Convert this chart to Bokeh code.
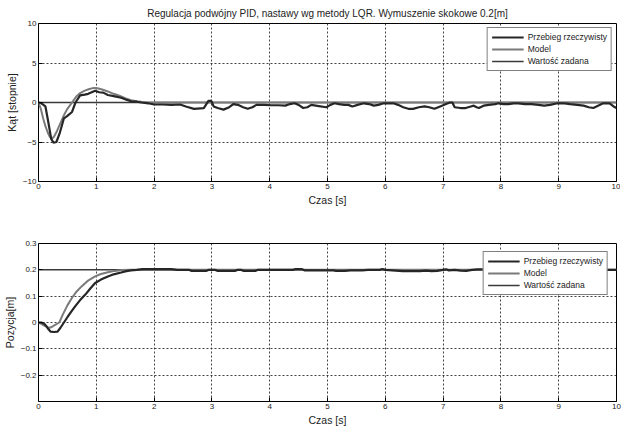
from bokeh.plotting import figure
from bokeh.layouts import column
from bokeh.models import FixedTicker, Range1d
from bokeh.embed import file_html
from bokeh.resources import INLINE

TITLE = "Regulacja podwójny PID, nastawy wg metody LQR. Wymuszenie skokowe 0.2[m]"
X_TICKS = [0, 1, 2, 3, 4, 5, 6, 7, 8, 9, 10]
KAT_TICKS = [-10, -5, 0, 5, 10]
POZ_TICKS = [-0.2, -0.1, 0, 0.1, 0.2, 0.3]
LEGEND_NAMES = ["Przebieg rzeczywisty", "Model", "Wartość zadana"]

# --- angle (Kąt) ---
t_kat_real = [0, 0.05, 0.12, 0.17, 0.22, 0.26, 0.31, 0.37, 0.44, 0.50, 0.58, 0.64, 0.72, 0.80, 0.86, 0.92,
              0.98, 1.05, 1.12, 1.20, 1.30, 1.43, 1.52, 1.60, 1.70, 1.78, 1.90, 2.00, 2.15, 2.30, 2.45,
              2.55, 2.69, 2.86, 2.94, 2.99, 3.03, 3.10, 3.20, 3.30, 3.37, 3.45, 3.54, 3.62, 3.70, 3.77,
              3.90, 4.03, 4.15, 4.27, 4.35, 4.43, 4.50, 4.58, 4.65, 4.72, 4.85, 4.98, 5.05, 5.12, 5.20,
              5.29, 5.36, 5.43, 5.52, 5.63, 5.72, 5.80, 5.88, 5.97, 6.14, 6.22, 6.31, 6.40, 6.48, 6.58,
              6.68, 6.76, 6.85, 6.95, 7.05, 7.12, 7.16, 7.20, 7.30, 7.39, 7.48, 7.53, 7.58, 7.62, 7.70,
              7.79, 7.90, 7.96, 8.05, 8.13, 8.22, 8.30, 8.42, 8.53, 8.65, 8.75, 8.85, 8.98, 9.10, 9.20,
              9.32, 9.43, 9.52, 9.60, 9.68, 9.77, 9.88, 9.95, 10.0]
kat_real = [0, -0.1, -0.5, -2.5, -4.6, -5.1, -5.0, -3.8, -2.0, -1.7, -1.2, 0.0, 0.9, 1.0, 1.1, 1.3,
            1.5, 1.3, 1.25, 0.95, 0.8, 0.6, 0.35, 0.15, 0.1, 0.0, -0.1, -0.25, -0.25, -0.3, -0.25,
            -0.5, -0.8, -0.7, 0.2, 0.2, -0.5, -0.7, -0.9, -0.6, -0.2, -0.3, -0.6, -0.8, -0.6, -0.3,
            -0.3, -0.35, -0.35, -0.4, -0.2, -0.1, -0.3, -0.7, -0.6, -0.3, -0.45, -0.6, -0.3, -0.1, -0.2,
            -0.3, -0.3, -0.5, -0.3, -0.1, -0.2, -0.4, -0.3, -0.1, -0.1, -0.3, -0.6, -0.8, -0.8, -0.6,
            -0.5, -0.6, -0.8, -0.5, -0.2, 0.0, 0.0, -0.6, -0.7, -0.7, -0.5, -0.4, -0.6, -0.7, -0.4,
            -0.3, -0.2, -0.1, -0.2, -0.2, -0.1, -0.1, -0.2, -0.2, -0.3, -0.4, -0.3, -0.1, -0.1, -0.2,
            -0.3, -0.4, -0.6, -0.7, -0.4, -0.1, -0.1, -0.5, -0.7]
t_kat_model = [0, 0.04, 0.08, 0.12, 0.16, 0.20, 0.23, 0.27, 0.32, 0.38, 0.44, 0.50, 0.56, 0.60, 0.66,
               0.72, 0.80, 0.88, 0.96, 1.02, 1.10, 1.20, 1.30, 1.40, 1.50, 1.60, 1.70, 1.80, 1.90, 2.0, 10.0]
kat_model = [0, -0.8, -2.0, -3.0, -3.8, -4.4, -4.6, -4.3, -3.6, -2.6, -1.6, -0.8, -0.2, 0.2, 0.8,
             1.2, 1.5, 1.7, 1.85, 1.8, 1.65, 1.4, 1.1, 0.85, 0.55, 0.3, 0.15, 0.05, 0.0, 0.0, 0.0]
t_kat_set = [0, 10]
kat_set = [0, 0]

# --- position (Pozycja) ---
t_poz_real = [0, 0.05, 0.10, 0.13, 0.17, 0.21, 0.27, 0.33, 0.38, 0.44, 0.50, 0.57, 0.64, 0.72, 0.81,
              0.90, 0.98, 1.08, 1.20, 1.30, 1.43, 1.52, 1.60, 1.70, 1.80, 2.0, 2.3, 2.4, 2.6, 2.65, 2.9,
              2.95, 3.05, 3.1, 3.4, 3.45, 3.5, 3.55, 3.75, 3.8, 4.4, 4.45, 4.55, 4.6, 5.1, 5.15, 5.3,
              5.4, 5.6, 5.7, 5.9, 5.95, 6.0, 6.3, 6.6, 6.7, 6.8, 6.9, 7.0, 7.05, 7.1, 7.2, 7.3, 7.4,
              7.5, 7.6, 7.8, 7.9, 8.5, 8.6, 9.0, 9.1, 10.0]
poz_real = [0, 0, -0.005, -0.012, -0.025, -0.035, -0.036, -0.035, -0.02, 0.0, 0.02, 0.042, 0.063, 0.085, 0.106,
            0.13, 0.15, 0.163, 0.175, 0.183, 0.19, 0.195, 0.198, 0.2, 0.203, 0.203, 0.203, 0.2, 0.2, 0.196, 0.196,
            0.2, 0.2, 0.196, 0.196, 0.2, 0.2, 0.196, 0.196, 0.2, 0.2, 0.203, 0.203, 0.198, 0.198, 0.196, 0.196,
            0.198, 0.198, 0.2, 0.2, 0.203, 0.2, 0.195, 0.195, 0.197, 0.195, 0.196, 0.2, 0.202, 0.198, 0.2, 0.197, 0.196,
            0.2, 0.202, 0.202, 0.2, 0.2, 0.198, 0.198, 0.2, 0.2]
t_poz_model = [0, 0.05, 0.10, 0.15, 0.19, 0.23, 0.28, 0.36, 0.42, 0.50, 0.58, 0.66, 0.75, 0.85, 0.98,
               1.08, 1.20, 1.32, 1.45, 1.6, 10.0]
poz_model = [0, -0.005, -0.012, -0.018, -0.02, -0.017, -0.01, 0.0, 0.03, 0.065, 0.094, 0.118, 0.138, 0.158, 0.175,
             0.184, 0.191, 0.196, 0.199, 0.2, 0.2]
t_poz_set = [0, 10]
poz_set = [0.2, 0.2]

FONT = "Liberation Sans"
C_REAL, C_MODEL, C_SET = "#262626", "#7a7a7a", "#3a3a3a"


def style_axis(ax):
    ax.axis_line_color = None
    ax.major_tick_in = 4
    ax.major_tick_out = 0
    ax.minor_tick_line_color = None
    ax.major_tick_line_color = "black"
    ax.major_label_text_font = FONT
    ax.major_label_text_font_size = "8px"
    ax.major_label_text_color = "#222222"
    ax.axis_label_text_font = FONT
    ax.axis_label_text_font_size = "10.5px"
    ax.axis_label_text_font_style = "normal"
    ax.axis_label_text_color = "#222222"
    ax.major_label_standoff = 2
    ax.axis_label_standoff = 2


def make_fig(top_border, y_range, y_ticks, y_label, title=None):
    p = figure(frame_width=578, frame_height=158, output_backend="svg", toolbar_location=None,
               x_range=Range1d(0, 10), y_range=y_range, title=title,
               min_border_left=0, min_border_right=6, min_border_top=top_border, min_border_bottom=0)
    p.outline_line_color = "black"
    p.outline_line_width = 1
    p.background_fill_color = "white"
    style_axis(p.xaxis[0])
    style_axis(p.yaxis[0])
    p.xaxis[0].ticker = FixedTicker(ticks=X_TICKS)
    p.yaxis[0].ticker = FixedTicker(ticks=y_ticks)
    p.xaxis[0].axis_label = "Czas [s]"
    p.yaxis[0].axis_label = y_label
    for g in (p.xgrid[0], p.ygrid[0]):
        g.grid_line_color = "#222222"
        g.grid_line_dash = "2 2"
        g.grid_line_width = 1
        g.grid_line_alpha = 0.85
    if title is not None:
        p.title.align = "center"
        p.title.text_font = FONT
        p.title.text_font_size = "10px"
        p.title.text_font_style = "normal"
        p.title.text_color = "#222222"
        p.title.offset = 0
    return p


def style_legend(p, margin):
    lg = p.legend[0]
    lg.location = "top_right"
    lg.border_line_color = "black"
    lg.border_line_width = 1
    lg.background_fill_alpha = 1.0
    lg.label_text_font = FONT
    lg.label_text_font_size = "8.5px"
    lg.label_text_color = "#222222"
    lg.glyph_width = 32
    lg.glyph_height = 10
    lg.label_height = 10
    lg.spacing = 2
    lg.padding = 4
    lg.margin = margin
    lg.label_standoff = 4


p1 = make_fig(0, Range1d(-10, 10), KAT_TICKS, "Kąt [stopnie]", TITLE)
p1.line(t_kat_set, kat_set, color=C_SET, line_width=1.5, legend_label=LEGEND_NAMES[2])
p1.line(t_kat_model, kat_model, color=C_MODEL, line_width=2, legend_label=LEGEND_NAMES[1])
p1.line(t_kat_real, kat_real, color=C_REAL, line_width=2.2, legend_label=LEGEND_NAMES[0])
items = p1.legend[0].items
p1.legend[0].items = [items[2], items[1], items[0]]
style_legend(p1, 4)

p2 = make_fig(35, Range1d(-0.3, 0.3), POZ_TICKS, "Pozycja[m]")
p2.yaxis[0].major_label_overrides = {0: "0"}
p2.line(t_poz_set, poz_set, color=C_SET, line_width=1.5, legend_label=LEGEND_NAMES[2])
p2.line(t_poz_model, poz_model, color=C_MODEL, line_width=2, legend_label=LEGEND_NAMES[1])
p2.line(t_poz_real, poz_real, color=C_REAL, line_width=2.2, legend_label=LEGEND_NAMES[0])
items = p2.legend[0].items
p2.legend[0].items = [items[2], items[1], items[0]]
style_legend(p2, 8)

layout = column(p1, p2, spacing=0)
open("out.html", "w").write(file_html(layout, INLINE))
